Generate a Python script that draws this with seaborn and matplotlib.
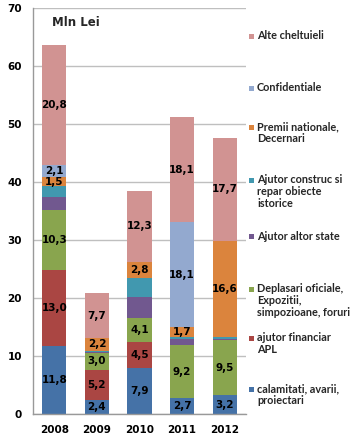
import matplotlib
matplotlib.use("Agg")
import matplotlib.pyplot as plt
import seaborn as sns
import numpy as np
from matplotlib.patches import Rectangle

years = ["2008", "2009", "2010", "2011", "2012"]

calamitati = [11.8, 2.4, 7.9, 2.7, 3.2]
ajutor_financiar = [13.0, 5.2, 4.5, 0.0, 0.0]
deplasari = [10.3, 3.0, 4.1, 9.2, 9.5]
ajutor_altor_state = [2.3, 0.1, 3.6, 1.1, 0.2]
ajutor_construc = [1.9, 0.2, 3.3, 0.3, 0.4]
premii = [1.5, 2.2, 2.8, 1.7, 16.6]
confidentiale = [2.1, 0.0, 0.0, 18.1, 0.0]
alte = [20.8, 7.7, 12.3, 18.1, 17.7]

series_names = [
    "calamitati, avarii,\nproiectari",
    "ajutor financiar\nAPL",
    "Deplasari oficiale,\nExpozitii,\nsimpozioane, foruri",
    "Ajutor altor state",
    "Ajutor construc si\nrepar obiecte\nistorice",
    "Premii nationale,\nDecernari",
    "Confidentiale",
    "Alte cheltuieli",
]
series_values = [calamitati, ajutor_financiar, deplasari, ajutor_altor_state,
                 ajutor_construc, premii, confidentiale, alte]
series_labeled = [True, True, True, False, False, True, True, True]
colors = ["#4572A7", "#AA4643", "#89A54E", "#71588F", "#4198AF",
          "#DB843D", "#93A9CF", "#D19392"]

sns.set_style("white")
fig = plt.figure(figsize=(3.52, 4.37), dpi=100)
ax = fig.add_axes([33/352, 23/437, 213/352, 406/437])

bottom = np.zeros(len(years))
for vals, col, lab in zip(series_values, colors, series_labeled):
    vals = np.array(vals)
    sns.barplot(x=years, y=vals, bottom=bottom, color=col, width=0.57,
                ax=ax, linewidth=0, saturation=1)
    cont = ax.containers[-1]
    if lab:
        labels = [("%.1f" % v).replace(".", ",") if v > 0 else "" for v in vals]
        ax.bar_label(cont, labels=labels, label_type="center",
                     fontsize=7.5, fontweight="bold", color="black")
    bottom = bottom + vals

ax.set_ylim(0, 70)
ax.set_xlim(-0.5, 4.5)
ax.set_yticks(range(0, 71, 10))
ax.yaxis.grid(True, color="#BFBFBF", linewidth=1)
ax.set_axisbelow(True)
for s in ["top", "right"]:
    ax.spines[s].set_visible(False)
for s in ["left", "bottom"]:
    ax.spines[s].set_color("#999999")
    ax.spines[s].set_linewidth(1)
ax.set_xticks(np.arange(-0.5, 5, 1.0), minor=True)
ax.tick_params(axis="x", which="major", length=0, pad=8)
ax.tick_params(axis="x", which="minor", length=5, color="#999999", direction="out")
ax.tick_params(axis="y", length=5, color="#BFBFBF", direction="out", pad=3)
ax.tick_params(axis="both", labelsize=7.5, labelcolor="black")
for t in ax.get_xticklabels() + ax.get_yticklabels():
    t.set_fontweight("bold")
ax.set_xlabel("")
ax.set_ylabel("")

fig.text(52/352, 1 - 22/437, "Mln Lei", fontsize=8.5, fontweight="bold",
         va="center", ha="left")

# legend (manual, reversed order like the reference)
legend_y = [389, 338, 289, 237, 180, 127, 88, 36]
for name, col, yp in zip(series_names, colors, legend_y):
    fig.add_artist(Rectangle((248.5/352, 1 - (yp + 2.5)/437), 5/352, 5/437,
                             transform=fig.transFigure, facecolor=col,
                             edgecolor="none"))
    fig.text(257/352, 1 - (yp - 6)/437, name, fontsize=7.8,
             fontweight="bold", family=["Lato", "DejaVu Sans"],
             va="top", ha="left", linespacing=1.1)

fig.savefig("out.png", dpi=100)
